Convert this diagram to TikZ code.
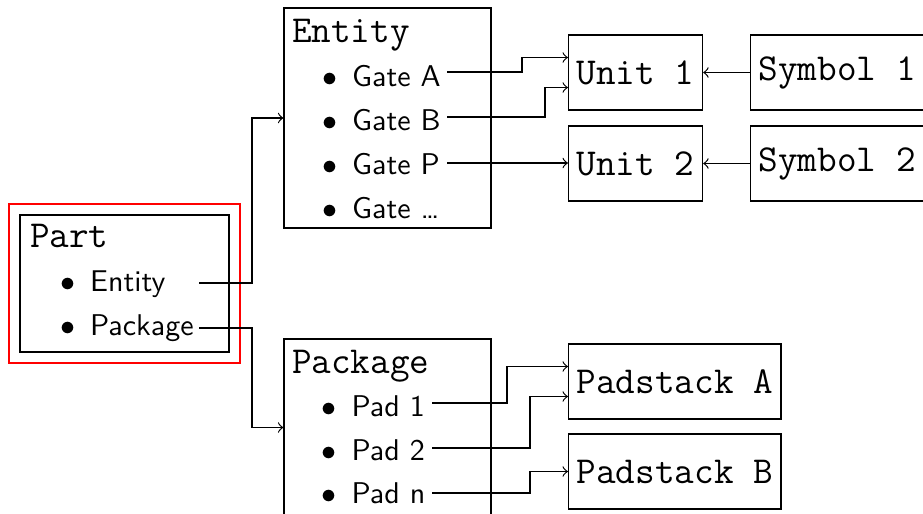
\documentclass[tikz,border=0pt]{standalone}
\usepackage{fontspec}
\usetikzlibrary{fit}
\newcommand\itembullet{\makebox[10pt][l]{$\bullet$}}
\newcommand\monofont{\fontsize{12.7pt}{15pt}\selectfont\ttfamily}
\begin{document}
\begin{tikzpicture}[x=0.33333pt,y=-0.33333pt,
  box/.style={draw, inner sep=0pt},
  label/.style={draw, font=\monofont, minimum height=25pt, inner xsep=2.7pt, anchor=west},
  head/.style={font=\monofont, anchor=base west, inner sep=0pt},
  item/.style={font=\sffamily, anchor=base west, inner sep=0pt},
  arr/.style={->},
  highlight/.style={draw=red, line width=0.7pt, inner sep=3.33pt}]
\useasboundingbox (0,0) rectangle (923,513);

% Part, with its red highlight frame
\node[box, fit={(20,215) (229,352)}] (part) {};
\node[highlight, fit=(part)] (parthl) {};
\node[head] (partT) at (29.5,247) {Part};
\node[item] (partE) at (59.5,291.5) {\itembullet Entity};
\node[item] (partP) at (59.5,335.5) {\itembullet Package};

% Entity
\node[box, fit={(284,8) (491,228)}] (ent) {};
\node[head] (entT) at (291.5,42) {Entity};
\node[item] (entA) at (321.5,86) {\itembullet Gate A};
\node[item] (entB) at (321.5,130) {\itembullet Gate B};
\node[item] (entP) at (321.5,174) {\itembullet Gate P};
\node[item] (entX) at (321.5,218) {\itembullet Gate \ldots};

% Package
\node[box, fit={(284,339) (491,516)}] (pkg) {};
\node[head] (pkgT) at (291.5,373) {Package};
\node[item] (pkg1) at (321,416) {\itembullet Pad 1};
\node[item] (pkg2) at (321,460) {\itembullet Pad 2};
\node[item] (pkgN) at (321,503) {\itembullet Pad n};

% Units, symbols and padstacks
\node[label] (u1) at (568,72.5) {Unit 1};
\node[label] (u2) at (568,163.5) {Unit 2};
\node[label] (s1) at (750,72.5) {Symbol 1};
\node[label] (s2) at (750,163.5) {Symbol 2};
\node[label] (pa) at (568,381.5) {Padstack A};
\node[label] (pb) at (568,471.5) {Padstack B};

% connector start points after the list items
\coordinate (cE) at (199,283);
\coordinate (cP) at (199,328);
\coordinate (cA) at (447,72);
\coordinate (cB) at (447,117);
\coordinate (cG) at (447,163);
\coordinate (c1) at (432,403);
\coordinate (c2) at (432,448);
\coordinate (cN) at (432,493);

\draw[arr] (cE) -- ++(53,0) |- (ent.west);
\draw[arr] (cP) -- ++(53,0) |- (pkg.west);
\draw[arr] (cA) -- ++(75,0) |- ([yshift=5pt]u1.west);
\draw[arr] (cB) -- ++(98,0) |- ([yshift=-5pt]u1.west);
\draw[arr] (cG) -- (cG -| u2.west);
\draw[arr] (s1.west) -- (u1.east);
\draw[arr] (s2.west) -- (u2.east);
\draw[arr] (c1) -- ++(75,0) |- ([yshift=5pt]pa.west);
\draw[arr] (c2) -- ++(98,0) |- ([yshift=-5pt]pa.west);
\draw[arr] (cN) -- ++(98,0) |- (pb.west);
\end{tikzpicture}
\end{document}
